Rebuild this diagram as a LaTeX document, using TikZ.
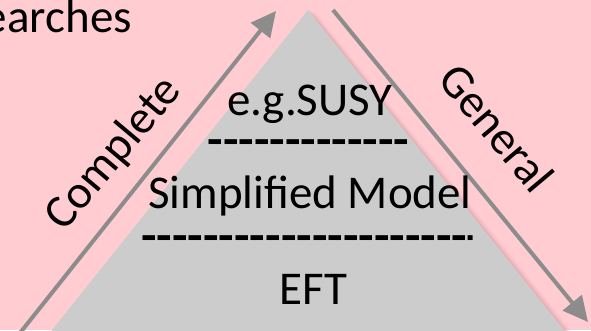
\documentclass[tikz,border=0pt]{standalone}
\usepackage{fontspec}
\setmainfont{Carlito}
\usepackage{graphicx}
\usetikzlibrary{arrows.meta}
\definecolor{bgpink}{RGB}{255,204,210}
\definecolor{trigrey}{RGB}{204,204,204}
\definecolor{arrgrey}{RGB}{140,140,140}
\definecolor{shadowpink}{RGB}{215,150,160}
\newcommand\hy{\mbox{\bfseries -}}
\begin{document}
\begin{tikzpicture}[x=1pt,y=-1pt,
  bigtext/.style={font=\fontsize{47}{56}\selectfont, inner sep=0pt, text=black},
  arrowline/.style={draw=arrgrey, line width=4pt, -{Triangle[length=25pt,width=24pt]}}]
\useasboundingbox (0,0) rectangle (591,330);
\fill[bgpink] (0,0) rectangle (591,330);
\clip (0,0) rectangle (591,330);
% shadow of pyramid
\foreach \d/\o in {7/0.10,5/0.15,3/0.2,1.5/0.25}{
  \fill[shadowpink,opacity=\o] (308+\d,10+\d*0.3) -- (580+\d,350) -- (300,350) -- cycle;
}
% pyramid
\fill[trigrey] (308,10) -- (580,350) -- (36,350) -- cycle;
% arrows
\coordinate (ls) at (14.4,340);
\coordinate (le) at (276,11);
\coordinate (rs) at (333,10);
\coordinate (re) at (588,322);
\draw[arrowline] (ls) -- (le);
\draw[arrowline] (rs) -- (re);
% texts
\node[bigtext, anchor=base east] (search) at (132,32) {earches};
\node[bigtext, rotate=50] (complete) at (114,154) {Complete};
\node[bigtext, rotate=-50] (general) at (497,128) {General};
\node[bigtext, anchor=base] (susy) at (310,115) {e.g.SUSY};
\node[bigtext, anchor=base] (dash1) at (308.5,155) {\scalebox{1.08}[1]{\hy\hy\hy\hy\hy\hy\hy\hy\hy\hy\hy\hy\hy}};
\node[bigtext, anchor=base] (simp) at (310,208) {Simplified Model};
\node[bigtext, anchor=base] (dash2) at (307.5,251) {\scalebox{1.08}[1]{\hy\hy\hy\hy\hy\hy\hy\hy\hy\hy\hy\hy\hy\hy\hy\hy\hy\hy\hy\hy\hy\scalebox{0.4}[1]{\hy}}};
\node[bigtext, anchor=base] (eft) at (313.5,304) {EFT};
\end{tikzpicture}
\end{document}
